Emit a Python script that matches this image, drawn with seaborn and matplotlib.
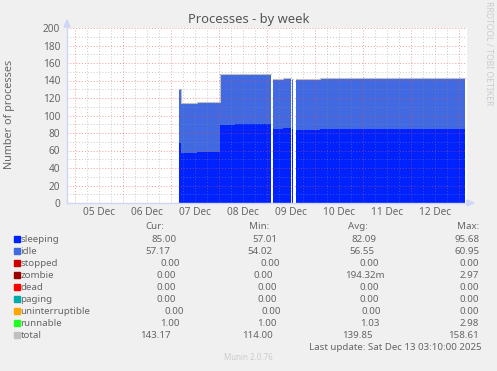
import numpy as np
import pandas as pd
import matplotlib
matplotlib.use("Agg")
import matplotlib.pyplot as plt
from matplotlib.patches import Rectangle, Polygon
import seaborn as sns

nan = np.nan

# ---------------- data (piecewise constant, value holds until next time; last time = end) ----
times = ["2025-12-07 04:00", "2025-12-07 05:00", "2025-12-07 13:00", "2025-12-08 00:30",
         "2025-12-08 08:00", "2025-12-09 02:00", "2025-12-09 03:00", "2025-12-09 08:00",
         "2025-12-09 12:00", "2025-12-09 12:40", "2025-12-09 13:10", "2025-12-09 14:30",
         "2025-12-10 02:30", "2025-12-13 03:10"]
sleeping = [68.5, 57.5, 58.7, 89.3, 89.8, nan, 84.2, 85.2, nan, 85.0, nan, 83.6, 84.8, nan]
idle = [60.5, 56.1, 56.1, 57.2, 56.7, nan, 57.0, 56.1, nan, 56.0, nan, 57.0, 56.8, nan]
stopped = [0, 0, 0, 0, 0, nan, 0, 0, nan, 0, nan, 0, 0, nan]
zombie = [0, 0, 0, 0, 0, nan, 0, 0, nan, 0, nan, 0, 0, nan]
dead = [0, 0, 0, 0, 0, nan, 0, 0, nan, 0, nan, 0, 0, nan]
paging = [0, 0, 0, 0, 0, nan, 0, 0, nan, 0, nan, 0, 0, nan]
uninterruptible = [0, 0, 0, 0, 0, nan, 0, 0, nan, 0, nan, 0, 0, nan]
runnable = [1.0, 1.0, 1.0, 1.0, 1.0, nan, 1.0, 1.0, nan, 1.0, nan, 1.0, 1.0, nan]

series_names = ["sleeping", "idle", "stopped", "zombie", "dead", "paging",
                "uninterruptible", "runnable", "total"]
series_colors = ["#0022ff", "#4169e1", "#cc0000", "#990000", "#ff0000", "#00aaaa",
                 "#ffa500", "#22ff22", "#c0c0c0"]
cur_vals = ["85.00", "57.17", "0.00", "0.00", "0.00", "0.00", "0.00", "1.00", "143.17"]
min_vals = ["57.01", "54.02", "0.00", "0.00", "0.00", "0.00", "0.00", "1.00", "114.00"]
avg_vals = ["82.09", "56.55", "0.00", "194.32m", "0.00", "0.00", "0.00", "1.03", "139.85"]
max_vals = ["95.68", "60.95", "0.00", "2.97", "0.00", "0.00", "0.00", "2.98", "158.61"]

day_labels = ["05 Dec", "06 Dec", "07 Dec", "08 Dec", "09 Dec", "10 Dec", "11 Dec", "12 Dec"]
y_ticks = list(range(0, 201, 20))

title = "Processes - by week"
ylabel = "Number of processes"
last_update = "Last update: Sat Dec 13 03:10:00 2025"
version = "Munin 2.0.76"
side_text = "RRDTOOL / TOBI OETIKER"

# ---------------- styling ----------------
sns.set_theme(style="white")
plt.rcParams['font.family'] = ['Noto Sans', 'DejaVu Sans']
TXT = "#666666"

W, H = 497, 371
fig = plt.figure(figsize=(W / 100, H / 100), dpi=100, facecolor="#f0f0f0")


def fx(x):
    return x / W


def fy(y):
    return 1 - y / H


ax = fig.add_axes([fx(67), fy(203), 400 / W, 175 / H])
ax.set_facecolor("white")

origin = pd.Timestamp("2025-12-05 00:00")
t = ((pd.to_datetime(times) - origin) / pd.Timedelta(days=1)).to_numpy()


def step_xy(tt, vv):
    xs, ys = [], []
    for i in range(len(tt) - 1):
        xs += [tt[i], tt[i + 1]]
        ys += [vv[i], vv[i]]
    return np.array(xs), np.array(ys, dtype=float)


layers = [sleeping, idle, stopped, zombie, dead, paging, uninterruptible, runnable]
base = None
for vals, col in zip(layers, series_colors[:8]):
    xs, ys = step_xy(t, vals)
    if base is None:
        base = np.zeros_like(ys)
    top = base + ys
    if np.nansum(ys) > 0:
        ax.fill_between(xs, base, top, color=col, linewidth=0, zorder=2)
    base = top

# total line, drawn run by run
total = base
valid = ~np.isnan(total)
idx = np.where(valid)[0]
runs = np.split(idx, np.where(np.diff(idx) != 1)[0] + 1)
for r in runs:
    if len(r) == 0:
        continue
    sns.lineplot(x=xs[r], y=total[r], estimator=None, sort=False, ax=ax,
                 color="#c0c0c0", linewidth=0.8, zorder=3)

ax.set_xlim(-1 / 6, 8 + 1 / 6)
ax.set_ylim(0, 200)

# grid (drawn on top like rrdtool)
minor_c = (0.55, 0.55, 0.55, 0.45)
major_c = (0.88, 0.31, 0.31, 0.55)
dots = (0, (1, 2))
for yv in range(10, 200, 20):
    ax.axhline(yv, color=minor_c, lw=0.7, ls=dots, zorder=4)
for yv in range(20, 201, 20):
    ax.axhline(yv, color=major_c, lw=0.7, ls=dots, zorder=4)
for k in range(-1, 9):
    for h in (6, 12, 18):
        xv = k + h / 24
        if -1 / 6 < xv < 8 + 1 / 6:
            ax.axvline(xv, color=minor_c, lw=0.7, ls=dots, zorder=4)
for k in range(0, 9):
    ax.axvline(k, color=major_c, lw=0.7, ls=dots, zorder=4)

ax.set_xticks([k + 0.5 for k in range(len(day_labels))])
ax.set_xticklabels(day_labels)
ax.set_yticks(y_ticks)
ax.set_yticklabels([str(v) for v in y_ticks])
ax.tick_params(axis="both", length=0, colors=TXT, labelsize=7.3)
ax.tick_params(axis="y", pad=5)
ax.tick_params(axis="x", pad=3)
ax.set_xlabel("")
ax.set_ylabel("")
for s in ("top", "right"):
    ax.spines[s].set_visible(False)
for s in ("left", "bottom"):
    ax.spines[s].set_color("#cfd6f8")
    ax.spines[s].set_linewidth(1.0)
    ax.spines[s].set_zorder(5)

# axis arrows
fig.patches.append(Polygon([(fx(64), fy(27)), (fx(70), fy(27)), (fx(67), fy(20))],
                           closed=True, transform=fig.transFigure, color="#cfd6f8"))
fig.patches.append(Polygon([(fx(467), fy(200)), (fx(467), fy(206)), (fx(474), fy(203))],
                           closed=True, transform=fig.transFigure, color="#cfd6f8"))

# texts
fig.text(fx(248.5), fy(19), title, ha="center", va="center", fontsize=9.3, color="#555555")
fig.text(fx(10), fy(114), ylabel, ha="center", va="center", rotation=90, fontsize=7.8, color=TXT)
fig.text(fx(488), fy(53), side_text, ha="center", va="center", rotation=270, fontsize=6.2,
         color="#cccccc")

# legend
LFS = 7.0
cur_r = [176.7, 170.7, 180, 176, 176, 176, 184, 180, 171]
min_r = [277, 272.7, 280, 272.7, 277, 277, 281, 277, 272.7]
avg_r = [376, 374.3, 379.3, 384.3, 379.3, 379.3, 381, 379.3, 372.7]
max_r = 479.3
fig.text(fx(155), fy(226.7), "Cur:", ha="center", va="center", fontsize=LFS, color=TXT)
fig.text(fx(259), fy(226.7), "Min:", ha="center", va="center", fontsize=LFS, color=TXT)
fig.text(fx(358), fy(226.7), "Avg:", ha="center", va="center", fontsize=LFS, color=TXT)
fig.text(fx(468), fy(226.7), "Max:", ha="center", va="center", fontsize=LFS, color=TXT)
for i, name in enumerate(series_names):
    yc = 239.3 + 12 * i
    fig.patches.append(Rectangle((fx(14), fy(yc + 3)), 6 / W, 6 / H, transform=fig.transFigure,
                                 color=series_colors[i]))
    fig.text(fx(20.5), fy(yc), name, ha="left", va="center", fontsize=LFS, color=TXT)
    fig.text(fx(cur_r[i]), fy(yc), cur_vals[i], ha="right", va="center", fontsize=LFS, color=TXT)
    fig.text(fx(min_r[i]), fy(yc), min_vals[i], ha="right", va="center", fontsize=LFS, color=TXT)
    fig.text(fx(avg_r[i]), fy(yc), avg_vals[i], ha="right", va="center", fontsize=LFS, color=TXT)
    fig.text(fx(max_r), fy(yc), max_vals[i], ha="right", va="center", fontsize=LFS, color=TXT)

fig.text(fx(481.5), fy(347.7), last_update, ha="right", va="center", fontsize=LFS, color=TXT)
fig.text(fx(248.5), fy(358), version, ha="center", va="center", fontsize=5.8, color="#cccccc")

fig.savefig("out.png", dpi=100, facecolor=fig.get_facecolor())
